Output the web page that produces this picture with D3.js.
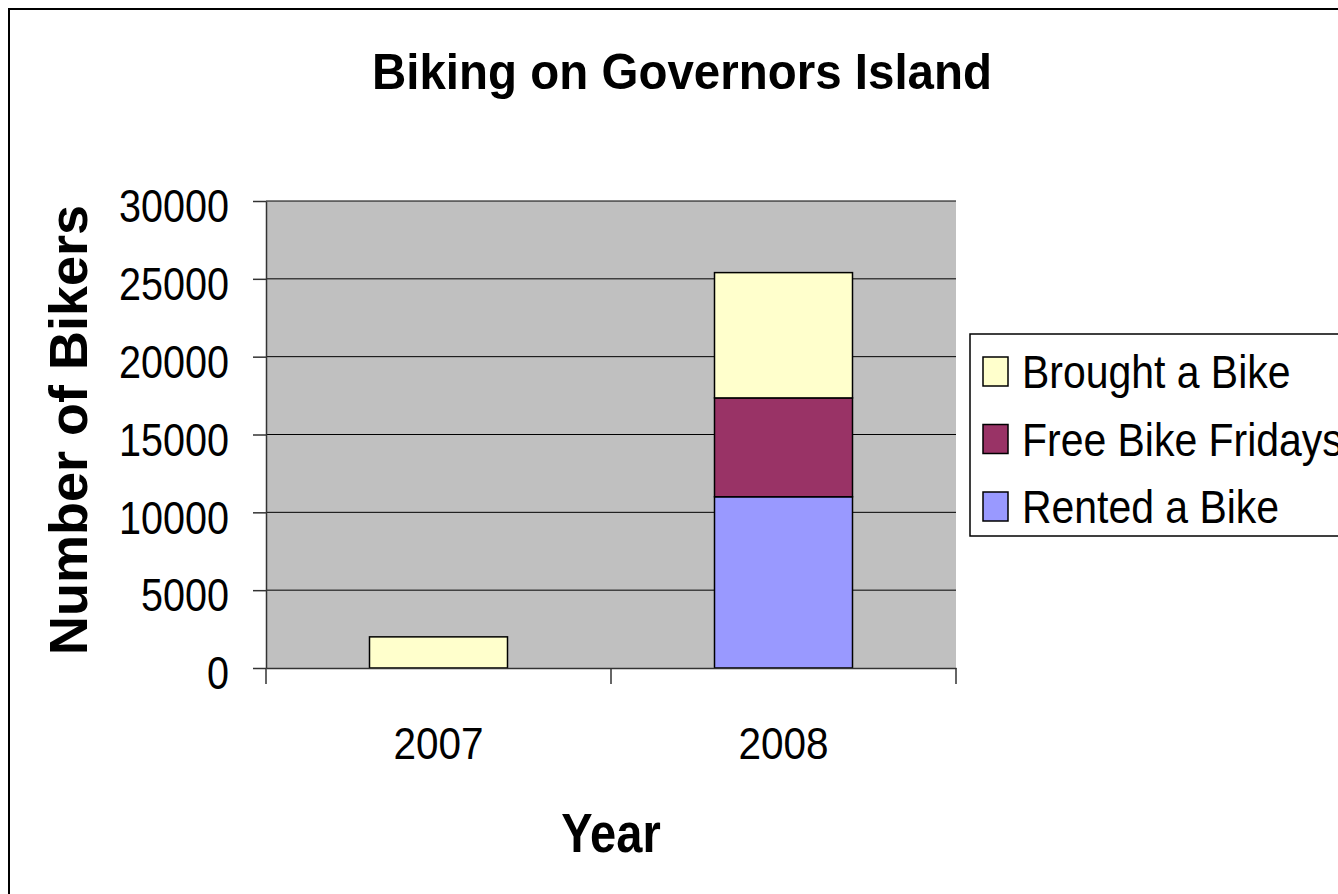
<html>
<head>
<meta http-equiv="Content-Type" content="text/html; charset=UTF-8" />
<script src="https://d3js.org/d3.v7.min.js"></script>
<style>
  body { margin: 0; background: #fff; }
  text { font-family: "Liberation Sans", Arial, sans-serif; fill: #000; }
</style>
</head>
<body>
<div id="chart"></div>
<script type="text/javascript">
  // data
  var years = ["2007", "2008"];
  var rented = [0, 11000];
  var freeFridays = [0, 6350];
  var brought = [2000, 8050];
  var seriesNames = ["Rented a Bike", "Free Bike Fridays", "Brought a Bike"];
  var seriesColors = ["#9999FF", "#993366", "#FFFFCC"];
  var yTicks = [0, 5000, 10000, 15000, 20000, 25000, 30000];

  var W = 1338, H = 894;
  var plotLeft = 266, plotRight = 956, plotTop = 201, plotBottom = 668;

  var svg = d3.select("#chart")
              .append("svg")
              .attr("width", W)
              .attr("height", H);

  // outer frame (runs off the right and bottom edges)
  svg.append("rect")
     .attr("x", 9).attr("y", 9)
     .attr("width", W + 20).attr("height", H + 20)
     .attr("fill", "#fff")
     .attr("stroke", "#000")
     .attr("stroke-width", 2);

  var x = d3.scaleBand()
            .domain(years)
            .range([plotLeft, plotRight])
            .paddingInner(0.6)
            .paddingOuter(0.3);

  var y = d3.scaleLinear()
            .domain([0, 30000])
            .range([plotBottom, plotTop]);

  // plot area
  svg.append("rect")
     .attr("x", plotLeft).attr("y", plotTop)
     .attr("width", plotRight - plotLeft).attr("height", plotBottom - plotTop)
     .attr("fill", "#C0C0C0");

  // gridlines
  svg.append("g")
     .selectAll("line")
     .data(yTicks.slice(1))
     .enter().append("line")
     .attr("x1", plotLeft).attr("x2", plotRight)
     .attr("y1", function(d) { return y(d); })
     .attr("y2", function(d) { return y(d); })
     .attr("stroke", "#000")
     .attr("stroke-width", 1);

  // stacked bars
  var rows = years.map(function(yr, i) {
    return { year: yr, "Rented a Bike": rented[i], "Free Bike Fridays": freeFridays[i], "Brought a Bike": brought[i] };
  });
  var stack = d3.stack().keys(seriesNames)(rows);

  svg.append("g")
     .selectAll("g")
     .data(stack)
     .enter().append("g")
     .attr("fill", function(d, i) { return seriesColors[i]; })
     .selectAll("rect")
     .data(function(d) { return d.filter(function(p) { return p[1] > p[0]; }); })
     .enter().append("rect")
     .attr("x", function(d) { return x(d.data.year); })
     .attr("width", x.bandwidth())
     .attr("y", function(d) { return y(d[1]); })
     .attr("height", function(d) { return y(d[0]) - y(d[1]); })
     .attr("stroke", "#000")
     .attr("stroke-width", 1.5);

  // squeeze text horizontally around its anchor, like the narrow chart font
  function squeeze(sel, k) {
    sel.each(function() {
      var t = d3.select(this);
      var tx = +t.attr("x") || 0, ty = +t.attr("y") || 0;
      t.attr("x", 0).attr("y", 0)
       .attr("transform", "translate(" + tx + "," + ty + ") scale(" + k + ",1)");
    });
  }

  // Y axis
  var yAxis = svg.append("g")
     .attr("transform", "translate(" + plotLeft + ",0)")
     .call(d3.axisLeft(y).tickValues(yTicks).tickSize(13).tickSizeOuter(0).tickFormat(function(d) { return d; }));
  yAxis.selectAll("line, path").attr("stroke", "#333").attr("stroke-width", 1.5);
  yAxis.selectAll("text")
       .attr("font-size", 46)
       .attr("font-family", "Liberation Sans, Arial, sans-serif")
       .attr("x", -37)
       .attr("dy", "0.45em");
  squeeze(yAxis.selectAll("text"), 0.86);

  // X axis: labels at band centres, ticks at band boundaries
  var xAxis = svg.append("g")
     .attr("transform", "translate(0," + plotBottom + ")")
     .call(d3.axisBottom(x).tickSize(0).tickSizeOuter(0).tickPadding(91));
  xAxis.select("path").attr("stroke", "#333").attr("stroke-width", 1.5);
  xAxis.selectAll("text")
       .attr("font-size", 45)
       .attr("font-family", "Liberation Sans, Arial, sans-serif")
       .attr("dy", 0);
  squeeze(xAxis.selectAll("text"), 0.9);

  var bounds = d3.range(years.length + 1).map(function(i) { return plotLeft + i * x.step(); });
  xAxis.selectAll("line.bound")
       .data(bounds)
       .enter().append("line")
       .attr("class", "bound")
       .attr("x1", function(d) { return d; }).attr("x2", function(d) { return d; })
       .attr("y1", 0).attr("y2", 16)
       .attr("stroke", "#333").attr("stroke-width", 1.5);

  // titles
  var title = svg.append("text")
     .attr("x", 682).attr("y", 89)
     .attr("text-anchor", "middle")
     .attr("font-size", 50)
     .attr("font-weight", "bold")
     .text("Biking on Governors Island");
  squeeze(title, 0.95);

  var xTitle = svg.append("text")
     .attr("x", 611).attr("y", 852)
     .attr("text-anchor", "middle")
     .attr("font-size", 56)
     .attr("font-weight", "bold")
     .text("Year");
  squeeze(xTitle, 0.84);

  svg.append("text")
     .attr("transform", "translate(87,430) rotate(-90)")
     .attr("text-anchor", "middle")
     .attr("font-size", 54)
     .attr("font-weight", "bold")
     .text("Number of Bikers");

  // legend
  var legend = svg.append("g").attr("transform", "translate(970,334)");
  legend.append("rect")
        .attr("width", 420).attr("height", 202)
        .attr("fill", "#fff")
        .attr("stroke", "#000")
        .attr("stroke-width", 1.5);

  var legendOrder = [2, 1, 0];
  var item = legend.selectAll("g.item")
        .data(legendOrder)
        .enter().append("g")
        .attr("class", "item")
        .attr("transform", function(d, i) { return "translate(0," + (38 + i * 67.5) + ")"; });
  item.append("rect")
      .attr("x", 13).attr("y", -15)
      .attr("width", 25).attr("height", 29)
      .attr("fill", function(d) { return seriesColors[d]; })
      .attr("stroke", "#000")
      .attr("stroke-width", 1.5);
  var lt = item.append("text")
      .attr("x", 52).attr("y", 16)
      .attr("font-size", 46)
      .text(function(d) { return seriesNames[d]; });
  squeeze(lt, 0.89);
</script>
</body>
</html>
